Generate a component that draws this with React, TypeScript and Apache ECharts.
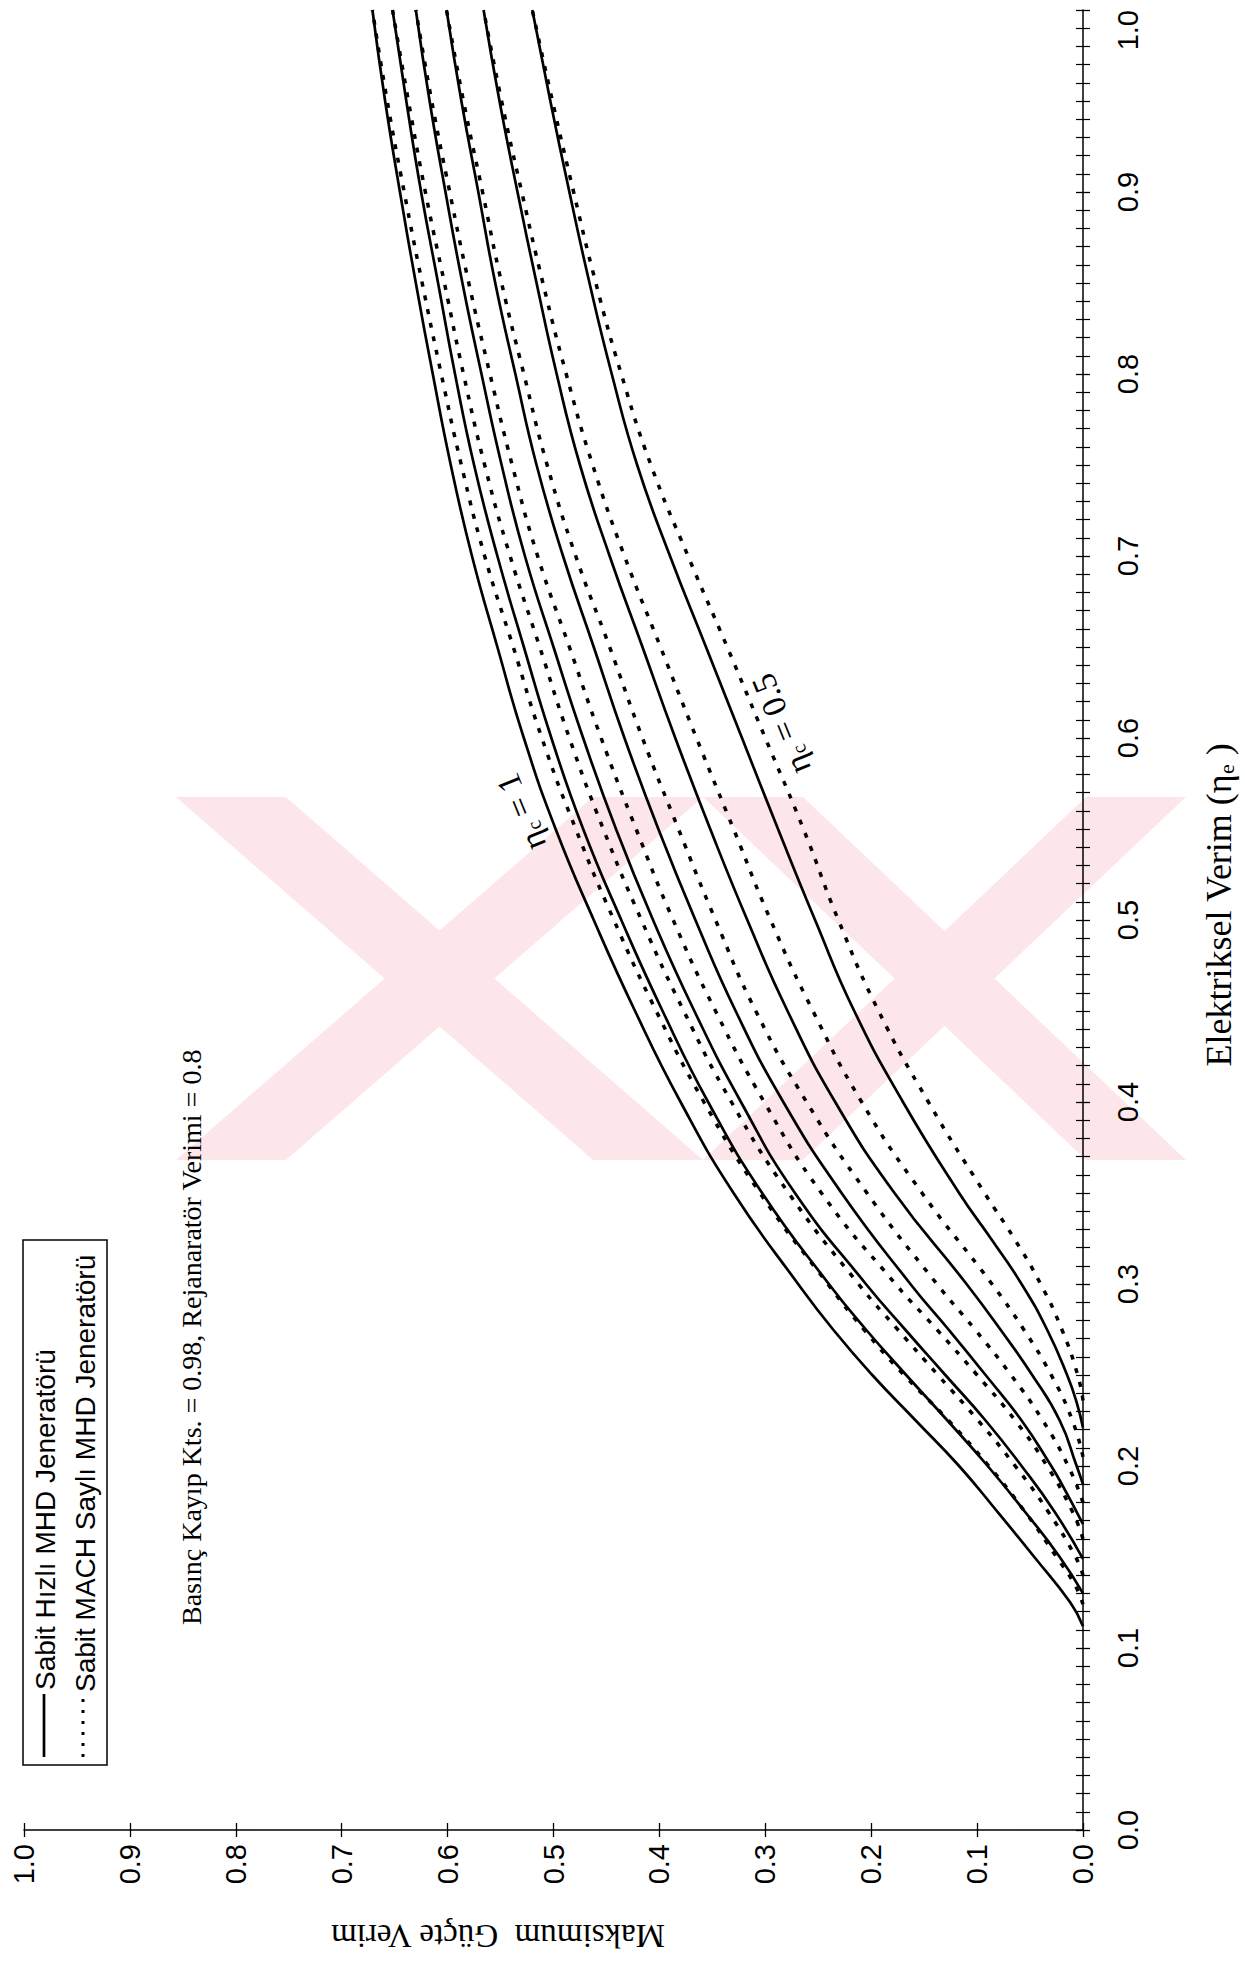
import React, { useEffect, useRef } from "react";
import * as echarts from "echarts";

// ---- data: each curve is [Elektriksel Verim (eta_e), Maksimum Güçte Verim] pairs ----
const etaCLabels = ["1", "0.9", "0.8", "0.7", "0.6", "0.5"];

// Sabit Hızlı MHD Jeneratörü (solid)
const solid_1 = [[0.112,0],[0.125,0.012],[0.15,0.046],[0.175,0.081],[0.2,0.117],[0.225,0.158],[0.25,0.199],[0.275,0.236],[0.3,0.269],[0.35,0.33],[0.4,0.38],[0.45,0.423],[0.5,0.462],[0.55,0.498],[0.6,0.528],[0.65,0.553],[0.7,0.577],[0.75,0.597],[0.8,0.614],[0.85,0.63],[0.9,0.645],[0.95,0.659],[1.0,0.671]];
const solid_09 = [[0.13,0],[0.15,0.022],[0.175,0.055],[0.2,0.09],[0.225,0.128],[0.25,0.167],[0.275,0.205],[0.3,0.24],[0.35,0.303],[0.4,0.354],[0.45,0.397],[0.5,0.436],[0.55,0.472],[0.6,0.502],[0.65,0.528],[0.7,0.553],[0.75,0.575],[0.8,0.593],[0.85,0.609],[0.9,0.625],[0.95,0.639],[1.0,0.652]];
const solid_08 = [[0.149,0],[0.175,0.027],[0.2,0.058],[0.225,0.092],[0.25,0.13],[0.275,0.168],[0.3,0.205],[0.35,0.272],[0.4,0.323],[0.45,0.367],[0.5,0.406],[0.55,0.441],[0.6,0.472],[0.65,0.5],[0.7,0.527],[0.75,0.549],[0.8,0.568],[0.85,0.586],[0.9,0.602],[0.95,0.617],[1.0,0.63]];
const solid_07 = [[0.168,0],[0.19,0.02],[0.2,0.03],[0.225,0.058],[0.25,0.092],[0.275,0.127],[0.3,0.163],[0.35,0.228],[0.4,0.283],[0.45,0.328],[0.5,0.366],[0.55,0.401],[0.6,0.433],[0.65,0.462],[0.7,0.491],[0.75,0.516],[0.8,0.536],[0.85,0.555],[0.9,0.571],[0.95,0.587],[1.0,0.601]];
const solid_06 = [[0.19,0],[0.2,0.006],[0.225,0.022],[0.25,0.048],[0.275,0.078],[0.3,0.11],[0.35,0.178],[0.4,0.234],[0.45,0.279],[0.5,0.317],[0.55,0.352],[0.6,0.385],[0.65,0.416],[0.7,0.447],[0.75,0.475],[0.8,0.497],[0.85,0.516],[0.9,0.534],[0.95,0.551],[1.0,0.566]];
const solid_05 = [[0.221,0],[0.235,0.006],[0.25,0.015],[0.275,0.034],[0.3,0.058],[0.325,0.087],[0.35,0.117],[0.4,0.17],[0.45,0.216],[0.5,0.253],[0.55,0.288],[0.6,0.322],[0.65,0.356],[0.7,0.39],[0.75,0.421],[0.8,0.445],[0.85,0.466],[0.9,0.485],[0.95,0.503],[1.0,0.52]];

// Sabit MACH Saylı MHD Jeneratörü (dotted)
const dotted_1 = [[0.124,0],[0.135,0.008],[0.15,0.025],[0.175,0.055],[0.2,0.089],[0.225,0.127],[0.25,0.169],[0.275,0.207],[0.3,0.241],[0.35,0.305],[0.4,0.358],[0.45,0.403],[0.5,0.443],[0.55,0.479],[0.6,0.511],[0.65,0.538],[0.7,0.565],[0.75,0.587],[0.8,0.606],[0.85,0.624],[0.9,0.641],[0.95,0.657],[1.0,0.671]];
const dotted_09 = [[0.14,0],[0.15,0.007],[0.175,0.033],[0.2,0.064],[0.225,0.099],[0.25,0.137],[0.275,0.175],[0.3,0.212],[0.35,0.278],[0.4,0.332],[0.45,0.377],[0.5,0.417],[0.55,0.453],[0.6,0.485],[0.65,0.513],[0.7,0.541],[0.75,0.565],[0.8,0.585],[0.85,0.603],[0.9,0.621],[0.95,0.637],[1.0,0.652]];
const dotted_08 = [[0.16,0],[0.175,0.01],[0.2,0.034],[0.225,0.064],[0.25,0.1],[0.275,0.138],[0.3,0.177],[0.35,0.247],[0.4,0.301],[0.45,0.347],[0.5,0.387],[0.55,0.422],[0.6,0.455],[0.65,0.485],[0.7,0.515],[0.75,0.539],[0.8,0.56],[0.85,0.58],[0.9,0.598],[0.95,0.615],[1.0,0.63]];
const dotted_07 = [[0.18,0],[0.2,0.014],[0.225,0.038],[0.25,0.068],[0.275,0.102],[0.3,0.138],[0.35,0.204],[0.4,0.261],[0.45,0.309],[0.5,0.347],[0.55,0.382],[0.6,0.416],[0.65,0.447],[0.7,0.479],[0.75,0.506],[0.8,0.528],[0.85,0.549],[0.9,0.567],[0.95,0.585],[1.0,0.601]];
const dotted_06 = [[0.205,0],[0.225,0.01],[0.25,0.03],[0.275,0.056],[0.3,0.086],[0.35,0.152],[0.4,0.209],[0.45,0.255],[0.5,0.295],[0.55,0.33],[0.6,0.365],[0.65,0.399],[0.7,0.433],[0.75,0.463],[0.8,0.488],[0.85,0.51],[0.9,0.53],[0.95,0.549],[1.0,0.566]];
const dotted_05 = [[0.236,0],[0.25,0.005],[0.275,0.02],[0.3,0.04],[0.325,0.065],[0.35,0.093],[0.4,0.146],[0.45,0.193],[0.5,0.231],[0.55,0.264],[0.6,0.3],[0.65,0.336],[0.7,0.373],[0.75,0.408],[0.8,0.436],[0.85,0.46],[0.9,0.481],[0.95,0.501],[1.0,0.52]];

const solidCurves = [solid_1, solid_09, solid_08, solid_07, solid_06, solid_05];
const dottedCurves = [dotted_1, dotted_09, dotted_08, dotted_07, dotted_06, dotted_05];

const SANS = "'Liberation Sans', Arial, sans-serif";
const SERIF = "'Liberation Serif', 'Times New Roman', serif";

function buildOption() {
  const fmt = (v: number) => v.toFixed(1);
  const baseX = {
    type: "value",
    position: "bottom",
    min: 0,
    max: 1,
    interval: 0.1,
    inverse: true,
    splitLine: { show: false },
  };
  const baseY = {
    type: "value",
    position: "right",
    min: 0,
    max: 1,
    interval: 0.1,
    splitLine: { show: false },
  };
  const series: any[] = [];
  solidCurves.forEach((c, i) => {
    series.push({
      type: "line",
      name: "Sabit Hızlı MHD Jeneratörü ηc=" + etaCLabels[i],
      data: c.map(([e, m]) => [m, e]),
      xAxisIndex: 0,
      yAxisIndex: 0,
      symbol: "none",
      showSymbol: false,
      smooth: 0.5,
      silent: true,
      z: 4,
      lineStyle: { color: "#000", width: 2.7, type: "solid" },
    });
  });
  dottedCurves.forEach((c, i) => {
    series.push({
      type: "line",
      name: "Sabit MACH Saylı MHD Jeneratörü ηc=" + etaCLabels[i],
      data: c.map(([e, m]) => [m, e]),
      xAxisIndex: 0,
      yAxisIndex: 0,
      symbol: "none",
      showSymbol: false,
      smooth: 0.5,
      silent: true,
      z: 3,
      lineStyle: { color: "#000", width: 3.5, type: [5, 9] },
    });
  });

  const pink = "#fde6ea";
  const wm = (pts: number[][]) => ({
    type: "polygon",
    silent: true,
    z: 0,
    shape: { points: pts },
    style: { fill: pink },
  });

  const etaLabel = (x: number, y: number, val: string) => ({
    type: "text",
    z: 10,
    x,
    y,
    rotation: 1.955,
    style: {
      text: "{e|η}{s|c}{e| = " + val + "}",
      fill: "#000",
      align: "center",
      verticalAlign: "middle",
      rich: {
        e: { fontSize: 34, fontFamily: SERIF, fill: "#000" },
        s: { fontSize: 20, fontFamily: SERIF, fill: "#000", verticalAlign: "bottom" },
      },
    },
  });

  return {
    animation: false,
    backgroundColor: "#ffffff",
    grid: { left: 24, right: 162, top: 10, bottom: 137, containLabel: false },
    xAxis: [
      {
        ...baseX,
        axisLine: { show: true, onZero: false, lineStyle: { color: "#000", width: 1.5 } },
        axisTick: { show: true, length: 7, lineStyle: { color: "#000", width: 1.3 } },
        axisLabel: {
          rotate: 90,
          margin: 14,
          fontSize: 29,
          fontFamily: SANS,
          color: "#000",
          formatter: fmt,
        },
      },
      {
        ...baseX,
        axisLine: { show: false, onZero: false },
        axisTick: { show: true, inside: true, length: 7, lineStyle: { color: "#000", width: 1.3 } },
        axisLabel: { show: false },
      },
    ],
    yAxis: [
      {
        ...baseY,
        name: "{a|Elektriksel Verim (η}{s|e}{a| )}",
        nameLocation: "middle",
        nameGap: 118,
        nameTextStyle: {
          color: "#000",
          padding: [0, 0, 0, 30],
          rich: {
            a: { fontSize: 36, fontFamily: SERIF, color: "#000" },
            s: { fontSize: 22, fontFamily: SERIF, color: "#000", verticalAlign: "bottom" },
          },
        },
        axisLine: { show: true, onZero: false, lineStyle: { color: "#000", width: 1.5 } },
        axisTick: { show: true, length: 7, lineStyle: { color: "#000", width: 1.3 } },
        minorTick: { show: true, splitNumber: 10, length: 7, lineStyle: { color: "#000", width: 1.2 } },
        axisLabel: {
          rotate: 90,
          margin: 30,
          fontSize: 29,
          fontFamily: SANS,
          color: "#000",
          formatter: fmt,
          alignMaxLabel: "right",
        },
      },
      {
        ...baseY,
        axisLine: { show: false, onZero: false },
        axisTick: { show: true, inside: true, length: 7, lineStyle: { color: "#000", width: 1.3 } },
        minorTick: { show: true, splitNumber: 10, length: 7, lineStyle: { color: "#000", width: 1.2 } },
        axisLabel: { show: false },
      },
    ],
    graphic: [
      // faint watermark
      wm([[176, 797], [286, 797], [703, 1160], [593, 1160]]),
      wm([[593, 797], [703, 797], [286, 1160], [176, 1160]]),
      wm([[703, 797], [803, 797], [1186, 1160], [1086, 1160]]),
      wm([[1086, 797], [1186, 797], [803, 1160], [703, 1160]]),
      // legend box
      {
        type: "rect",
        z: 10,
        shape: { x: 23, y: 1240, width: 84, height: 525 },
        style: { fill: "none", stroke: "#000", lineWidth: 1.5 },
      },
      {
        type: "line",
        z: 10,
        shape: { x1: 44, y1: 1757, x2: 44, y2: 1694 },
        style: { stroke: "#000", lineWidth: 2.7 },
      },
      {
        type: "line",
        z: 10,
        shape: { x1: 83, y1: 1757, x2: 83, y2: 1697 },
        style: { stroke: "#000", lineWidth: 3, lineDash: [3, 8] },
      },
      {
        type: "text",
        z: 10,
        x: 45,
        y: 1690,
        rotation: Math.PI / 2,
        style: {
          text: "Sabit Hızlı MHD Jeneratörü",
          fontSize: 28,
          fontFamily: SANS,
          fill: "#000",
          align: "left",
          verticalAlign: "middle",
        },
      },
      {
        type: "text",
        z: 10,
        x: 85,
        y: 1692,
        rotation: Math.PI / 2,
        style: {
          text: "Sabit MACH Saylı MHD Jeneratörü",
          fontSize: 28,
          fontFamily: SANS,
          fill: "#000",
          align: "left",
          verticalAlign: "middle",
        },
      },
      // parameter note
      {
        type: "text",
        z: 10,
        x: 191,
        y: 1625,
        rotation: Math.PI / 2,
        style: {
          text: "Basınç Kayıp Kts. = 0.98, Rejanaratör Verimi = 0.8",
          fontSize: 28,
          fontFamily: SERIF,
          fill: "#000",
          align: "left",
          verticalAlign: "middle",
        },
      },
      // bottom axis title (upside down)
      {
        type: "text",
        z: 10,
        x: 498,
        y: 1936,
        rotation: Math.PI,
        style: {
          text: "Maksimum  Güçte Verim",
          fontSize: 33,
          fontFamily: SERIF,
          fill: "#000",
          align: "center",
          verticalAlign: "middle",
        },
      },
      // curve annotations
      etaLabel(521, 812, "1"),
      etaLabel(781, 724, "0.5"),
    ],
    series,
  };
}

export default function App() {
  const ref = useRef<HTMLDivElement>(null);
  useEffect(() => {
    document.body.style.margin = "0";
    if (!ref.current) return;
    const chart = echarts.init(ref.current, null, { renderer: "svg" });
    chart.setOption(buildOption() as any);
    return () => {
      chart.dispose();
    };
  }, []);
  return <div ref={ref} style={{ width: 1245, height: 1967, background: "#fff" }} />;
}
